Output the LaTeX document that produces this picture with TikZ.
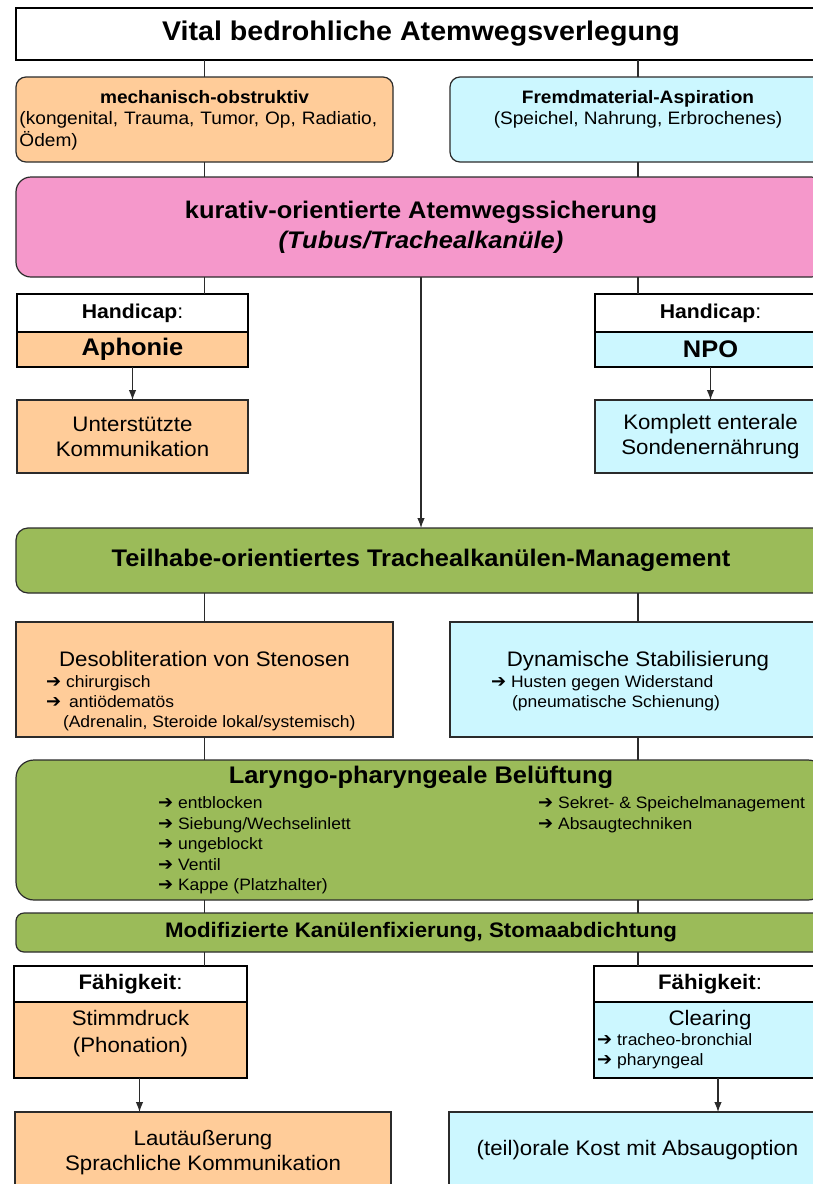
\documentclass[tikz,border=0pt]{standalone}
\usepackage{fontspec}
\setmainfont{Liberation Sans}[FakeStretch=1.06]
\newfontfamily\symbolfont{DejaVu Sans}
\usepackage{tikz}
\usetikzlibrary{arrows.meta,positioning}
\definecolor{Peach}{HTML}{FFCC99}
\definecolor{Aqua}{HTML}{CCF7FF}
\definecolor{Rose}{HTML}{F598CB}
\definecolor{Olive}{HTML}{9BBB59}
\definecolor{Edge}{HTML}{2B2B2B}
\newcommand{\fsz}[2]{\fontsize{#1}{#2}\selectfont}
\newcommand{\pfeil}{{\symbolfont\bfseries\fontsize{18}{18}\selectfont ➔}\hspace{5pt}}
\tikzset{
  box/.style={draw=Edge, line width=1.2pt, inner sep=0pt, outer sep=0pt, anchor=north west, align=center},
  headbox/.style={box, draw=black, line width=1.8pt, fill=white},
  peachbox/.style={box, fill=Peach},
  aquabox/.style={box, fill=Aqua},
  rosebox/.style={box, fill=Rose, rounded corners=15pt},
  olivebox/.style={box, fill=Olive, rounded corners=14pt},
  capbox/.style={headbox, minimum width=231pt, minimum height=38pt, font=\fsz{20}{24}},
  txt/.style={inner sep=0pt, outer sep=0pt, align=center, anchor=north},
  itemlist/.style={inner sep=0pt, outer sep=0pt, align=left, anchor=north west, font=\fsz{16.5}{20}},
  link/.style={draw=Edge, line width=1.1pt},
  arrow/.style={link, -{Latex[length=10pt,width=7.5pt]}}
}
\begin{document}
\begin{tikzpicture}[x=1pt, y=-1pt]
  \useasboundingbox (0,0) rectangle (813,1184);
  \clip (0,0) rectangle (813,1184);
  \node[headbox, minimum width=810pt, minimum height=52pt, font={\fsz{27}{32}\bfseries}] (vital) at (16,8) {Vital bedrohliche Atemwegsverlegung};
  \node[peachbox, rounded corners=10pt, minimum width=377pt, minimum height=85pt] (mech) at (16,77) {};
  \node[txt, below=13pt of mech.north, text width=370pt, align=left, font=\fsz{18}{21.5}] (mechtxt) {\makebox[370pt]{\bfseries mechanisch-obstruktiv}\\(kongenital, Trauma, Tumor, Op, Radiatio,\\Ödem)};
  \node[aquabox, rounded corners=10pt, minimum width=376pt, minimum height=85pt] (fremd) at (450,77) {};
  \node[txt, below=13pt of fremd.north, font=\fsz{18}{21.5}] (fremdtxt) {\textbf{Fremdmaterial-Aspiration}\\(Speichel, Nahrung, Erbrochenes)};
  \node[rosebox, minimum width=810pt, minimum height=100pt, font={\fsz{24}{30}\bfseries}] (kurativ) at (16,177) {kurativ-orientierte Atemwegssicherung\\\textit{(Tubus/Trachealkanüle)}};

  \node[capbox] (hcl) at (17,294) {\textbf{Handicap}:};
  \node[capbox, fill=Peach, minimum height=35pt, font={\fsz{24}{28}\bfseries}, below=0pt of hcl] (aphonie) {Aphonie};
  \node[capbox] (hcr) at (595,294) {\textbf{Handicap}:};
  \node[capbox, fill=Aqua, minimum height=35pt, font={\fsz{24}{28}\bfseries}, below=0pt of hcr] (npo) {NPO};
  \node[peachbox, minimum width=231pt, minimum height=73pt, font=\fsz{21}{25}] (unterst) at (17,400) {Unterstützte\\Kommunikation};
  \node[aquabox, minimum width=231pt, minimum height=73pt, font=\fsz{21}{25}] (komplett) at (595,400) {Komplett enterale\\Sondenernährung};

  \node[olivebox, rounded corners=12pt, minimum width=810pt, minimum height=65pt, font={\fsz{24}{28}\bfseries}] (teilhabe) at (16,528) {Teilhabe-orientiertes Trachealkanülen-Management};
  \node[peachbox, minimum width=377pt, minimum height=115pt] (desob) at (16,622) {};
  \node[txt, below=29pt of desob.north, font=\fsz{21}{25}] (desobhd) {Desobliteration von Stenosen};
  \node[itemlist] (desobls) at (46,676) {\pfeil chirurgisch\\\pfeil\hspace{3pt}antiödematös\\\hspace{17pt}(Adrenalin, Steroide lokal/systemisch)};
  \node[aquabox, minimum width=376pt, minimum height=115pt] (dyn) at (450,622) {};
  \node[txt, below=29pt of dyn.north, font=\fsz{21}{25}] (dynhd) {Dynamische Stabilisierung};
  \node[itemlist] (dynls) at (491,676) {\pfeil Husten gegen Widerstand\\\hspace{21pt}(pneumatische Schienung)};

  \node[olivebox, rounded corners=18pt, minimum width=810pt, minimum height=140pt] (laryngo) at (16,760) {};
  \node[txt, below=6pt of laryngo.north, font={\fsz{24}{28}\bfseries}] (laryngohd) {Laryngo-pharyngeale Belüftung};
  \node[itemlist, font=\fsz{16.5}{20.5}] (laryngols) at (158,797) {\pfeil entblocken\\\pfeil Siebung/Wechselinlett\\\pfeil ungeblockt\\\pfeil Ventil\\\pfeil Kappe (Platzhalter)};
  \node[itemlist, font=\fsz{16.5}{20.5}] (laryngors) at (538,797) {\pfeil Sekret- \& Speichelmanagement\\\pfeil Absaugtechniken};
  \node[olivebox, rounded corners=8pt, minimum width=810pt, minimum height=39pt, font={\fsz{21}{25}\bfseries}] (modif) at (16,913) {Modifizierte Kanülenfixierung, Stomaabdichtung};

  \node[capbox, minimum width=233pt, minimum height=36pt, font=\fsz{21}{25}] (fahl) at (14,966) {\textbf{Fähigkeit}:};
  \node[capbox, fill=Peach, minimum width=233pt, minimum height=76pt, below=0pt of fahl] (stimm) {};
  \node[txt, below=8.5pt of stimm.north, font=\fsz{21}{27}] (stimmtxt) {Stimmdruck\\(Phonation)};
  \node[capbox, minimum width=232pt, minimum height=36pt, font=\fsz{21}{25}] (fahr) at (594,966) {\textbf{Fähigkeit}:};
  \node[capbox, fill=Aqua, minimum width=232pt, minimum height=76pt, below=0pt of fahr] (clear) {};
  \node[txt, below=8.5pt of clear.north, font=\fsz{21}{25}] (cleartxt) {Clearing};
  \node[itemlist] (clearls) at (597,1034) {\pfeil tracheo-bronchial\\\pfeil pharyngeal};
  \node[peachbox, minimum width=376pt, minimum height=90pt] (laut) at (15,1112) {};
  \node[txt, below=18.5pt of laut.north, font=\fsz{21}{25}] (lauttxt) {Lautäußerung\\Sprachliche Kommunikation};
  \node[aquabox, minimum width=377pt, minimum height=90pt] (oral) at (449,1112) {};
  \node[txt, below=28.5pt of oral.north, font=\fsz{21}{25}] (oraltxt) {(teil)orale Kost mit Absaugoption};

  \draw[link] (vital.south -| mech.north) -- (mech.north);
  \draw[link] (vital.south -| fremd.north) -- (fremd.north);
  \draw[link] (mech.south) -- (mech.south |- kurativ.north);
  \draw[link] (fremd.south) -- (fremd.south |- kurativ.north);
  \draw[link] (kurativ.south -| mech.south) -- (hcl.north -| mech.south);
  \draw[link] (kurativ.south -| fremd.south) -- (hcr.north -| fremd.south);
  \draw[arrow] (aphonie.south) -- (unterst.north);
  \draw[arrow] (npo.south) -- (komplett.north);
  \draw[arrow] (kurativ.south) -- (teilhabe.north);
  \draw[link] (teilhabe.south -| desob.north) -- (desob.north);
  \draw[link] (teilhabe.south -| dyn.north) -- (dyn.north);
  \draw[link] (desob.south) -- (desob.south |- laryngo.north);
  \draw[link] (dyn.south) -- (dyn.south |- laryngo.north);
  \draw[link] (laryngo.south -| desob.south) -- (modif.north -| desob.south);
  \draw[link] (laryngo.south -| dyn.south) -- (modif.north -| dyn.south);
  \draw[link] (modif.south -| desob.south) -- (fahl.north -| desob.south);
  \draw[link] (modif.south -| dyn.south) -- (fahr.north -| dyn.south);
  \draw[arrow] ([xshift=9pt]stimm.south) -- ([xshift=9pt]stimm.south |- laut.north);
  \draw[arrow] ([xshift=8pt]clear.south) -- ([xshift=8pt]clear.south |- oral.north);
\end{tikzpicture}
\end{document}
